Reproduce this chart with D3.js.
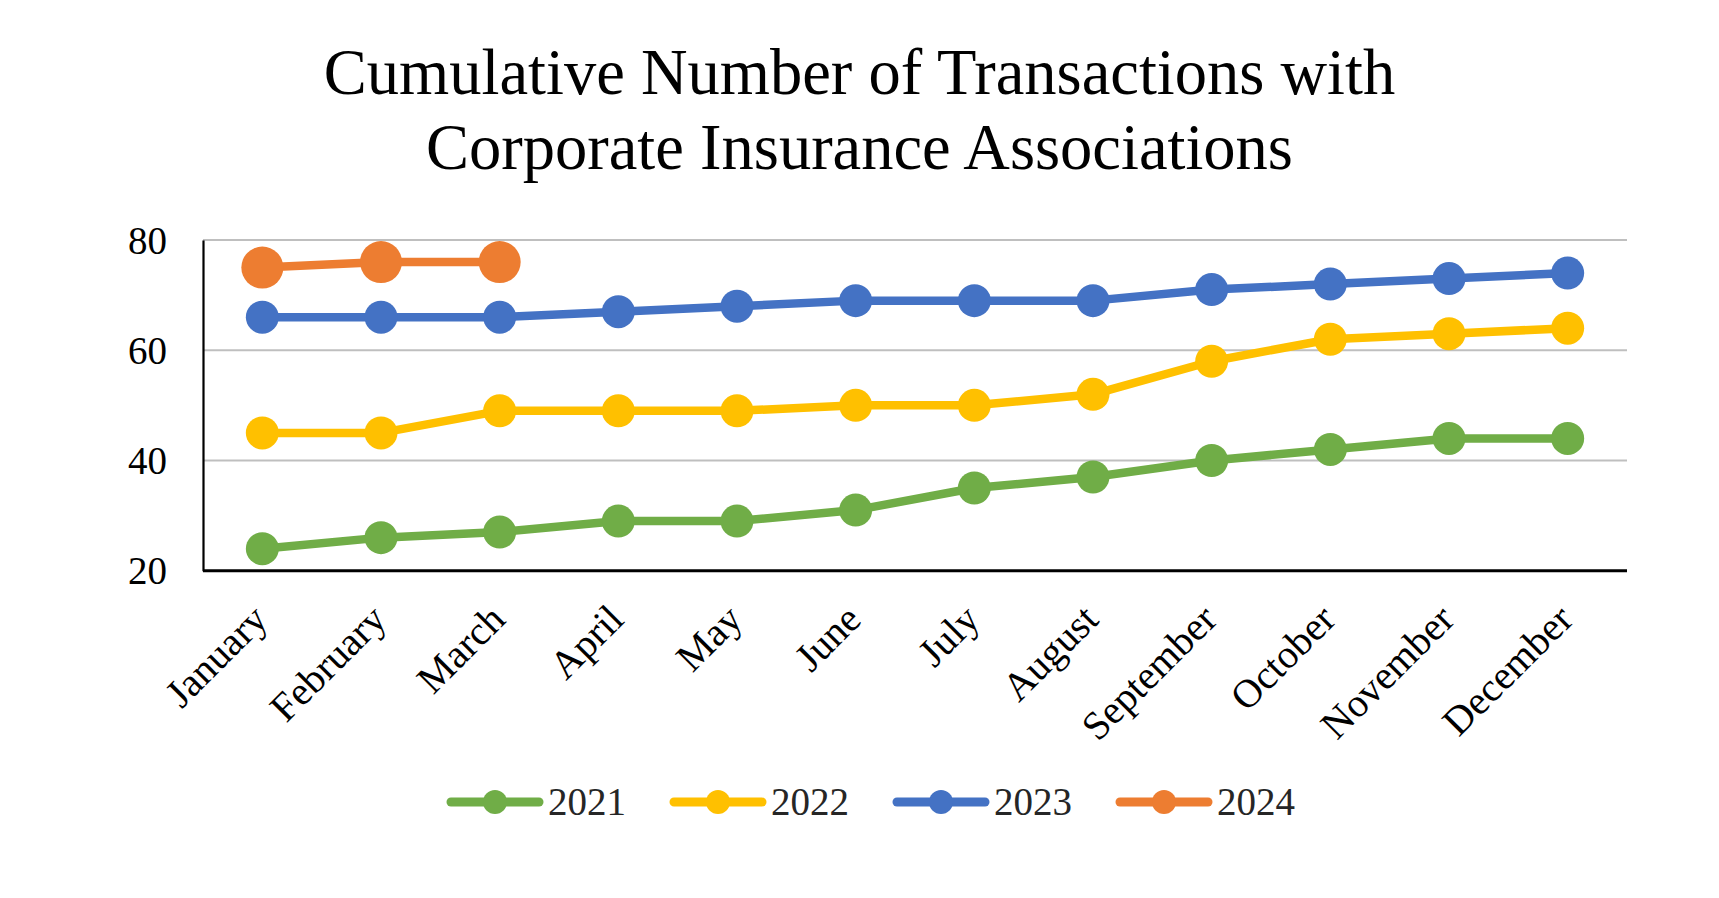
<!DOCTYPE html>
<html>
<head>
<meta charset="utf-8">
<script src="https://cdn.jsdelivr.net/npm/d3@7"></script>
<style>
    body { margin: 0; background: #fff; }
    text { font-family: 'Liberation Serif', 'Times New Roman', serif; }
</style>
</head>
<body>
<div id="chart"></div>
<script>
const months = ['January', 'February', 'March', 'April', 'May', 'June', 'July', 'August', 'September', 'October', 'November', 'December'];
const years = ['2021', '2022', '2023', '2024'];
const values2021 = [24, 26, 27, 29, 29, 31, 35, 37, 40, 42, 44, 44];
const values2022 = [45, 45, 49, 49, 49, 50, 50, 52, 58, 62, 63, 64];
const values2023 = [66, 66, 66, 67, 68, 69, 69, 69, 71, 72, 73, 74];
const values2024 = [75, 76, 76];
const yTicks = [20, 40, 60, 80];
const colors = ['#70ad47', '#ffc000', '#4472c4', '#ed7d31'];
const titleLines = ['Cumulative Number of Transactions with', 'Corporate Insurance Associations'];

const series = [values2021, values2022, values2023, values2024].map((vals, i) => ({
    name: years[i],
    color: colors[i],
    radius: i === 3 ? 21 : 16.5,
    points: vals.map((v, j) => ({ month: months[j], value: v }))
}));

const width = 1719;
const height = 898;
const plot = { left: 203, right: 1627, top: 240, bottom: 570.7 };

const svg = d3.select('#chart').append('svg')
    .attr('width', width)
    .attr('height', height);

svg.append('rect').attr('width', width).attr('height', height).attr('fill', '#fff');

const x = d3.scalePoint().domain(months).range([plot.left, plot.right]).padding(0.5);
const y = d3.scaleLinear().domain([20, 80]).range([plot.bottom, plot.top]);

// title
svg.append('g')
    .selectAll('text')
    .data(titleLines)
    .enter()
    .append('text')
    .attr('x', width / 2)
    .attr('y', (d, i) => 94 + i * 75)
    .attr('text-anchor', 'middle')
    .style('font-size', '64.5px')
    .attr('fill', '#000')
    .text((d) => d);

// gridlines
svg.append('g')
    .selectAll('line')
    .data(yTicks.filter((t) => t > 20))
    .enter()
    .append('line')
    .attr('x1', plot.left)
    .attr('x2', plot.right)
    .attr('y1', (d) => y(d))
    .attr('y2', (d) => y(d))
    .attr('stroke', '#bfbfbf')
    .attr('stroke-width', 2);

// y axis
const yAxis = d3.axisLeft(y).tickValues(yTicks).tickSize(0).tickPadding(36);
const gy = svg.append('g').attr('transform', `translate(${plot.left},0)`).call(yAxis);
gy.select('.domain').attr('stroke', '#000').attr('stroke-width', 2.2);
gy.selectAll('text').style('font-size', '39px').attr('fill', '#000')
    .attr('font-family', null).attr('dy', '0.34em');

// x axis
const xAxis = d3.axisBottom(x).tickSize(0).tickPadding(0);
const gx = svg.append('g').attr('transform', `translate(0,${plot.bottom})`).call(xAxis);
gx.select('.domain').attr('stroke', '#000').attr('stroke-width', 3)
    .attr('d', `M${plot.left},0H${plot.right}`);
gx.selectAll('text')
    .style('font-size', '40px')
    .attr('fill', '#000')
    .attr('font-family', null)
    .attr('text-anchor', 'end')
    .attr('y', 0)
    .attr('dy', '0.35em')
    .attr('transform', 'translate(-3,41) rotate(-45)');

// lines and markers
const line = d3.line().x((d) => x(d.month)).y((d) => y(d.value));

const groups = svg.selectAll('.series')
    .data(series)
    .enter()
    .append('g')
    .attr('class', 'series');

groups.append('path')
    .attr('d', (d) => line(d.points))
    .attr('fill', 'none')
    .attr('stroke', (d) => d.color)
    .attr('stroke-width', 8.5)
    .attr('stroke-linejoin', 'round');

groups.selectAll('circle')
    .data((d) => d.points.map((p) => ({ ...p, color: d.color, radius: d.radius })))
    .enter()
    .append('circle')
    .attr('cx', (d) => x(d.month))
    .attr('cy', (d) => y(d.value))
    .attr('r', (d) => d.radius)
    .attr('fill', (d) => d.color);

// legend
const legendX = d3.scalePoint().domain(years).range([447, 1116]);
const legendY = 802;
const legend = svg.selectAll('.legend')
    .data(series)
    .enter()
    .append('g')
    .attr('class', 'legend')
    .attr('transform', (d) => `translate(${legendX(d.name)},${legendY})`);

legend.append('line')
    .attr('x1', 4).attr('x2', 92)
    .attr('stroke', (d) => d.color)
    .attr('stroke-width', 9)
    .attr('stroke-linecap', 'round');

legend.append('circle')
    .attr('cx', 48)
    .attr('r', 12)
    .attr('fill', (d) => d.color);

legend.append('text')
    .attr('x', 101)
    .attr('y', 13)
    .style('font-size', '39px')
    .attr('fill', '#262626')
    .text((d) => d.name);
</script>
</body>
</html>
